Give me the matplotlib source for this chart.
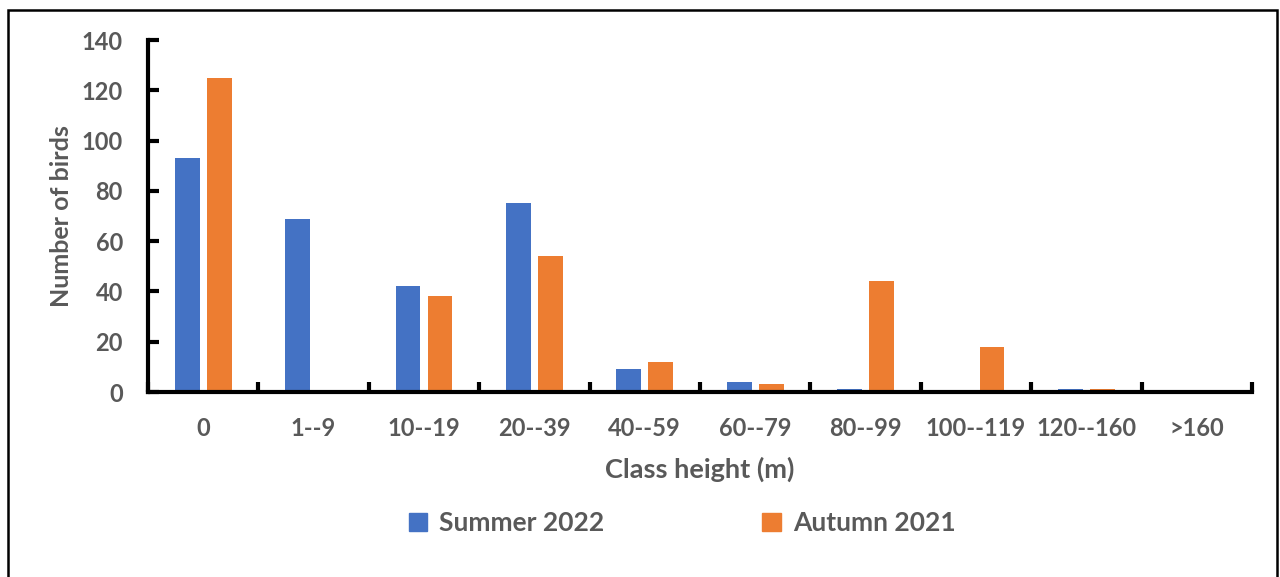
import matplotlib
matplotlib.use("Agg")
import matplotlib.pyplot as plt
import numpy as np
from matplotlib.patches import Rectangle, Patch

categories = ["0", "1--9", "10--19", "20--39", "40--59", "60--79",
              "80--99", "100--119", "120--160", ">160"]
summer_2022 = [93, 69, 42, 75, 9, 4, 1, 0, 1, 0]
autumn_2021 = [125, 0, 38, 54, 12, 3, 44, 18, 1, 0]
y_ticks = [0, 20, 40, 60, 80, 100, 120, 140]

BLUE = "#4472C4"
ORANGE = "#ED7D31"
GREY = "#595959"

plt.rcParams["font.family"] = ["Lato", "DejaVu Sans"]
plt.rcParams["font.weight"] = "bold"

fig = plt.figure(figsize=(12.8, 5.77), dpi=100)
ax = fig.add_axes([148 / 1280, 1 - 392 / 577, (1252 - 148) / 1280, (392 - 40) / 577])

x = np.arange(len(categories))
w = 0.226
ax.bar(x - 0.145, summer_2022, width=w, color=BLUE, label="Summer 2022")
ax.bar(x + 0.145, autumn_2021, width=w, color=ORANGE, label="Autumn 2021")

ax.set_xlim(-0.5, len(categories) - 0.5)
ax.set_ylim(0, 140)
ax.set_yticks(y_ticks)
ax.set_yticklabels([str(v) for v in y_ticks], fontsize=17, color=GREY, fontweight="bold")

# category labels centred, tick marks on the boundaries
ax.set_xticks(x)
ax.set_xticklabels(categories, fontsize=17, color=GREY, fontweight="bold")
ax.tick_params(axis="x", length=0, pad=18)
ax.set_xticks(np.arange(len(categories) + 1) - 0.5, minor=True)
ax.tick_params(axis="x", which="minor", direction="in", length=7, width=3, color="black")
ax.tick_params(axis="y", direction="in", length=8, width=3, color="black", pad=18)

for s in ("top", "right"):
    ax.spines[s].set_visible(False)
for s in ("left", "bottom"):
    ax.spines[s].set_linewidth(3)
    ax.spines[s].set_color("black")

ax.set_xlabel("Class height (m)", fontsize=19.5, color=GREY, fontweight="bold", labelpad=12)
ax.set_ylabel("Number of birds", fontsize=18, color=GREY, fontweight="bold", labelpad=6)

handles = [Patch(color=BLUE, label="Summer 2022"), Patch(color=ORANGE, label="Autumn 2021")]
leg = fig.legend(handles=handles, loc="center", bbox_to_anchor=(682 / 1280, 1 - 523 / 577),
                 ncol=2, frameon=False, fontsize=19, columnspacing=6.0,
                 handlelength=0.7, handleheight=0.7, handletextpad=0.45)
for t in leg.get_texts():
    t.set_color(GREY)
    t.set_fontweight("bold")

fig.add_artist(Rectangle((8 / 1280, -0.05), (1277 - 8) / 1280, 1 - 10 / 577 + 0.05,
                         transform=fig.transFigure, fill=False, edgecolor="black",
                         linewidth=1.8, clip_on=False))

fig.savefig("out.png", dpi=100)
